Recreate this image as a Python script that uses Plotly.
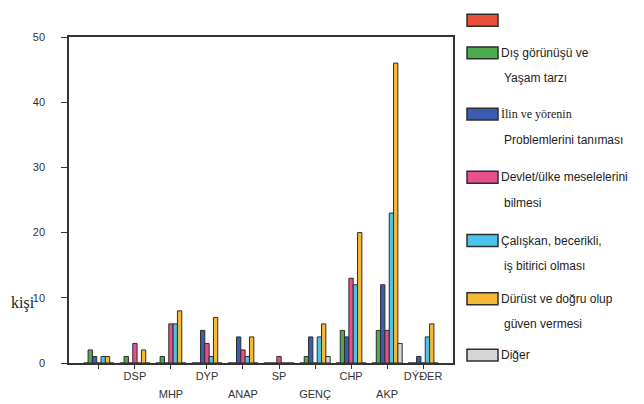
import plotly.graph_objects as go

# ---------------- data ----------------
parties = ["", "DSP", "MHP", "DYP", "ANAP", "SP", "GENÇ", "CHP", "AKP", "DÝÐER"]
series_names = ["", "Dış görünüşü ve Yaşam tarzı", "İlin ve yörenin Problemlerini tanıması",
                "Devlet/ülke meselelerini bilmesi", "Çalışkan, becerikli, iş bitirici olması",
                "Dürüst ve doğru olup güven vermesi", "Diğer"]
red_vals = [0, 0, 0, 0, 0, 0, 0, 0, 0, 0]
green_vals = [2, 1, 1, 0, 0, 0, 1, 5, 5, 0]
blue_vals = [1, 0, 0, 5, 4, 0, 4, 4, 12, 1]
pink_vals = [0, 3, 6, 3, 2, 1, 0, 13, 5, 0]
cyan_vals = [1, 0, 6, 1, 1, 0, 4, 12, 23, 4]
yellow_vals = [1, 2, 8, 7, 4, 0, 6, 20, 46, 6]
grey_vals = [0, 0, 0, 0, 0, 0, 1, 0, 3, 0]
legend_line1 = ["", "Dış görünüşü ve", "İlin ve yörenin", "Devlet/ülke meselelerini",
                "Çalışkan, becerikli,", "Dürüst ve doğru olup", "Diğer"]
legend_line2 = ["", "Yaşam tarzı", "Problemlerini tanıması", "bilmesi",
                "iş bitirici olması", "güven vermesi", ""]
y_ticks = [0, 10, 20, 30, 40, 50]
y_title = "kişi"

# ---------------- style ----------------
colors = ["#e9503c", "#4cab4c", "#3b5cb0", "#ea4f8e", "#4cc4ea", "#f6b935", "#d6d6d6"]
outline = "#2e2e2e"
W, H = 644, 404
ML, MR, MT, MB = 61, 199, 29, 45
PW, PH = W - ML - MR, H - MT - MB
sans = "Liberation Sans, Arial, sans-serif"
serif = "Liberation Serif, Times New Roman, serif"

all_vals = [red_vals, green_vals, blue_vals, pink_vals, cyan_vals, yellow_vals, grey_vals]
xs = list(range(len(parties)))

fig = go.Figure()
for name, vals, col in zip(series_names, all_vals, colors):
    fig.add_trace(go.Bar(x=xs, y=vals, name=name, marker=dict(color=col, line=dict(color=outline, width=1)),
                         showlegend=False))
# invisible trace to anchor the second (label) x axis
fig.add_trace(go.Scatter(x=[None], y=[None], xaxis="x2", showlegend=False, hoverinfo="skip"))

lower_idx = [i for i in xs if i % 2 == 0]
xr = [-0.83, 9.83]

def px2paper_x(px):
    return (px - ML) / PW

def px2paper_y(py):
    return (H - MB - py) / PH

shapes = []
annotations = []
sw_y = [12, 45, 107, 171, 235, 294, 351]
for i, col in enumerate(colors):
    yc = sw_y[i]
    shapes.append(dict(type="rect", xref="paper", yref="paper",
                       x0=px2paper_x(459), x1=px2paper_x(490),
                       y0=px2paper_y(yc + 6), y1=px2paper_y(yc - 6),
                       fillcolor=col, line=dict(color=outline, width=1.5)))
    if legend_line1[i]:
        fam = serif if i == 2 else sans
        annotations.append(dict(text=legend_line1[i], xref="paper", yref="paper",
                                x=px2paper_x(491), y=px2paper_y(yc), xanchor="left", yanchor="middle",
                                showarrow=False, font=dict(family=fam, size=12, color="#222")))
    if legend_line2[i]:
        annotations.append(dict(text=legend_line2[i], xref="paper", yref="paper",
                                x=px2paper_x(494), y=px2paper_y(yc + 26), xanchor="left", yanchor="middle",
                                showarrow=False, font=dict(family=sans, size=12, color="#222")))

annotations.append(dict(text=y_title, xref="paper", yref="paper", x=px2paper_x(31), y=px2paper_y(298),
                        xanchor="right", yanchor="middle", showarrow=False, xshift=-2,
                        font=dict(family=serif, size=16, color="#222")))

fig.update_layout(
    width=W, height=H,
    margin=dict(l=ML, r=MR, t=MT, b=MB),
    paper_bgcolor="white", plot_bgcolor="white",
    barmode="group", bargap=0.16, bargroupgap=0,
    xaxis=dict(range=xr, tickmode="array", tickvals=xs,
               ticktext=[parties[i] if i % 2 == 1 else "" for i in xs],
               ticks="outside", ticklen=4, tickwidth=1, tickcolor="#333",
               showline=True, linecolor="#333", linewidth=1.5, mirror=True,
               showgrid=False, zeroline=False, ticklabelstandoff=-2,
               tickfont=dict(family=sans, size=11, color="#333")),
    xaxis2=dict(range=xr, overlaying="x", anchor="y", side="bottom", tickmode="array",
                tickvals=lower_idx, ticktext=[parties[i] for i in lower_idx],
                ticks="", showline=False, showgrid=False, zeroline=False,
                ticklabelstandoff=23,
                tickfont=dict(family=sans, size=11, color="#333")),
    yaxis=dict(range=[0, 50], tickmode="array", tickvals=y_ticks,
               ticks="outside", ticklen=6, tickwidth=1, tickcolor="#333",
               showline=True, linecolor="#333", linewidth=1.5, mirror=True,
               showgrid=False, zeroline=False, ticklabelstandoff=14,
               tickfont=dict(family=sans, size=11, color="#333")),
    shapes=shapes, annotations=annotations,
)

fig.write_html("out.html")
